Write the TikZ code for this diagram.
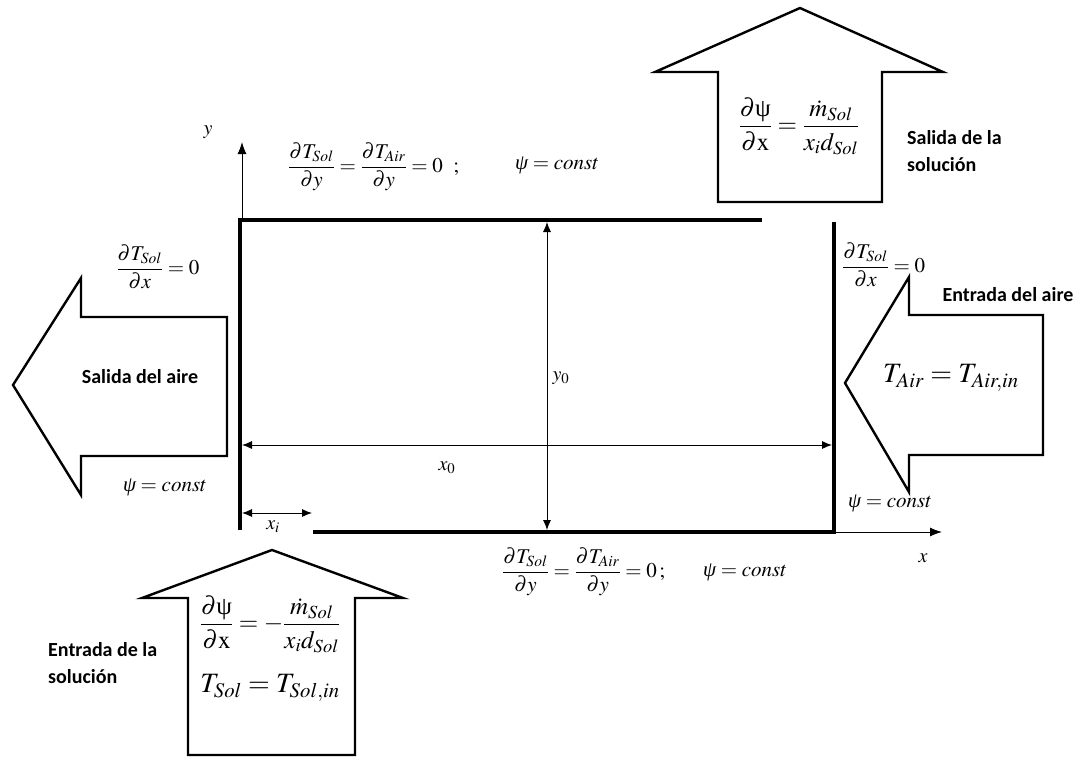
\documentclass[tikz,border=0pt]{standalone}
\usepackage{amsmath}
\usepackage{mathptmx}
\usepackage{fontspec}
\setmainfont{Liberation Serif}
\newfontfamily\labfont{Carlito}
\newcommand\psiit{\textit{ψ}}
\newcommand\psiup{\textup{ψ}}
\usetikzlibrary{arrows.meta}
\begin{document}
\begin{tikzpicture}[x=1pt,y=-1pt,
  wall/.style={line width=3.6pt,line join=miter},
  axis/.style={line width=1pt,-{Latex[length=12pt,width=9pt]}},
  dim/.style={line width=0.9pt,{Latex[length=10pt,width=8pt]}-{Latex[length=10pt,width=8pt]}},
  bigarrow/.style={line width=2.4pt,line join=miter},
  lab/.style={font=\labfont\bfseries\fontsize{20}{27}\selectfont,align=left,inner sep=0pt},
  eq/.style={font=\fontsize{21}{25}\selectfont,inner sep=0pt},
  eqb/.style={font=\fontsize{25}{29}\selectfont,inner sep=0pt},
  eqt/.style={font=\fontsize{28}{32}\selectfont,inner sep=0pt},
  dlab/.style={font=\fontsize{20}{24}\selectfont,inner sep=0pt}]
\useasboundingbox (0,0) rectangle (1085,758);
% corner coordinates
\coordinate (TL) at (240,220); \coordinate (TE) at (762,220);
\coordinate (BL) at (240,530); \coordinate (BS) at (313,532);
\coordinate (BR) at (834,532); \coordinate (TR) at (834,222);
\coordinate (ybase) at (242,220); \coordinate (ytip) at (242,142);
\coordinate (xtip) at (942,532);
\coordinate (y0t) at (547,222); \coordinate (y0b) at (547,530);
\coordinate (x0l) at (242,445); \coordinate (x0r) at (832,445);
\coordinate (xil) at (242,513); \coordinate (xir) at (312,513);
% walls
\draw[wall] (BL) -- (TL) -- (TE);
\draw[wall] (TR) -- (BR) -- (BS);
% axes
\draw[axis] (ybase) -- (ytip);
\draw[axis] (BR) -- (xtip);
% dimensions
\draw[dim] (y0t) -- (y0b);
\draw[dim] (x0l) -- (x0r);
\draw[dim] (xil) -- (xir);
% big arrows
\draw[bigarrow] (718,202) -- (718,72) -- (655,72) -- (800,8) -- (943,72) -- (882,72) -- (882,202) -- cycle;
\draw[bigarrow] (227,317) -- (81,317) -- (81,278) -- (13,385) -- (81,495) -- (81,456) -- (227,456) -- cycle;
\draw[bigarrow] (1043,315) -- (909,315) -- (909,277) -- (845,383) -- (909,492) -- (909,455) -- (1043,455) -- cycle;
\draw[bigarrow] (188,755) -- (188,598) -- (142,598) -- (272,550) -- (403,598) -- (355,598) -- (355,755) -- cycle;
% dimension labels
\node[dlab] (ylab) at (208,132) {$y$};
\node[dlab] (xlab) at (923,558) {$x$};
\node[dlab] (y0lab) at (561,378) {$y_0$};
\node[dlab] (x0lab) at (447,468) {$x_0$};
\node[dlab] (xilab) at (273,527) {$x_i$};
% boundary conditions
\node[eq,anchor=west] (topbc) at (288,167) {$\dfrac{\partial T_{Sol}}{\partial y}=\dfrac{\partial T_{Air}}{\partial y}=0\ \ ;$};
\node[eq,anchor=west] (toppsi) at (515,165) {$\psiit=const$};
\node[eq,anchor=west] (botbc) at (502,572) {$\dfrac{\partial T_{Sol}}{\partial y}=\dfrac{\partial T_{Air}}{\partial y}=0\,;$};
\node[eq,anchor=west] (botpsi) at (703,572) {$\psiit=const$};
\node[eq] (lbc) at (158,267) {$\dfrac{\partial T_{Sol}}{\partial x}=0$};
\node[eq] (lpsi) at (165,487) {$\psiit=const$};
\node[eq,anchor=west] (rbc) at (842,265) {$\dfrac{\partial T_{Sol}}{\partial x}=0$};
\node[eq,anchor=west] (rpsi) at (848,503) {$\psiit=const$};
% equations inside arrows
\node[eqb] (topeq) at (799,126) {$\dfrac{\partial\psiup}{\partial\mathrm{x}}=\dfrac{\dot m_{Sol}}{x_i d_{Sol}}$};
\node[eqb] (boteq) at (270,624) {$\dfrac{\partial\psiup}{\partial\mathrm{x}}=-\dfrac{\dot m_{Sol}}{x_i d_{Sol}}$};
\node[eqt] (botT) at (270,688) {$T_{Sol}=T_{Sol,in}$};
\node[eqt] (rightT) at (951,378) {$T_{Air}=T_{Air,in}$};
% labels
\node[lab] (salaire) at (140,377) {Salida del aire};
\node[lab] (entaire) at (1008,295) {Entrada del aire};
\node[lab,anchor=north west] (salsol) at (907,130) {Salida de la\\solución};
\node[lab,anchor=north west] (entsol) at (48,642) {Entrada de la\\solución};
\end{tikzpicture}
\end{document}
